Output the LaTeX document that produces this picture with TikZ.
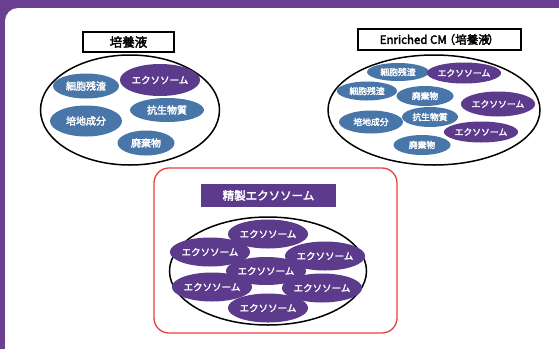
\documentclass[tikz,border=0pt]{standalone}
\usepackage{fontspec}
\setmainfont{Noto Sans CJK JP}
\newfontfamily\heavy{Noto Sans CJK JP}[FakeBold=2.6]
\usetikzlibrary{shapes.geometric}
\definecolor{bandpurple}{RGB}{107,63,145}
\definecolor{compblue}{RGB}{72,118,168}
\definecolor{exopurple}{RGB}{92,58,140}
\definecolor{framered}{RGB}{232,64,64}
\tikzset{
  blob/.style={ellipse, inner sep=0pt, text=white, font=\heavy\fontsize{10}{10}\selectfont},
  comp/.style={blob, fill=compblue},
  exo/.style={blob, fill=exopurple, font=\heavy\fontsize{9.5}{10}\selectfont},
  sm/.style={font=\heavy\fontsize{8.8}{10}\selectfont},
  pool/.style={ellipse, draw=black, line width=1.5pt, inner sep=0pt},
  titlebox/.style={draw=black, line width=1.6pt, fill=white, inner sep=0pt, font=\heavy\fontsize{12.5}{13}\selectfont}
}
\begin{document}
\begin{tikzpicture}[x=1pt,y=-1pt]
\useasboundingbox (0,0) rectangle (559,349);
\fill[bandpurple] (0,0) rectangle (559,349);
\fill[white, rounded corners=13pt] (5,8) rectangle (580,368);

% ---------- left: culture medium ----------
\node[titlebox, minimum width=91pt, minimum height=20pt] (t1) at (128.5,42) {培養液};
\node[pool, minimum width=179pt, minimum height=110pt] (p1) at (130,110) {};
\node[comp, minimum width=66pt, minimum height=25pt] (a1) at (86,86) {細胞残渣};
\node[exo, minimum width=71pt, minimum height=32pt] (a2) at (160,80) {エクソソーム};
\node[comp, minimum width=74pt, minimum height=24pt] (a3) at (167,110) {抗生物質};
\node[comp, minimum width=72pt, minimum height=31pt] (a4) at (86,121) {培地成分};
\node[comp, minimum width=57pt, minimum height=25pt] (a5) at (146,143) {廃棄物};

% ---------- right: enriched CM ----------
\node[titlebox, minimum width=163pt, minimum height=21pt, font=\heavy\fontsize{11.5}{12}\selectfont] (t2) at (439.5,39.5) {Enriched CM\kern-3pt（培養液\kern-2pt）};
\node[pool, minimum width=212pt, minimum height=110pt] (p2) at (434,110) {};
\node[comp, sm, minimum width=62pt, minimum height=18pt] (b1) at (398,72) {細胞残渣};
\node[exo, sm, minimum width=66pt, minimum height=21pt] (b2) at (464,73) {エクソソーム};
\node[comp, sm, minimum width=60pt, minimum height=19pt] (b3) at (367,91) {細胞残渣};
\node[comp, sm, minimum width=57pt, minimum height=20pt] (b4) at (425,96) {廃棄物};
\node[exo, sm, minimum width=64pt, minimum height=25pt] (b5) at (498,104) {エクソソーム};
\node[comp, sm, minimum width=64pt, minimum height=23pt] (b6) at (371,122) {培地成分};
\node[comp, sm, minimum width=56pt, minimum height=20pt] (b7) at (430,117) {抗生物質};
\node[exo, sm, minimum width=66pt, minimum height=21pt] (b8) at (481,132) {エクソソーム};
\node[comp, sm, minimum width=57pt, minimum height=20pt] (b9) at (422,145) {廃棄物};

% ---------- bottom: purified exosomes ----------
\node[draw=framered, line width=1.3pt, rounded corners=15pt, minimum width=243pt, minimum height=165pt, inner sep=0pt] (f3) at (275.5,250.5) {};
\node[fill=exopurple, text=white, inner sep=0pt, minimum width=135pt, minimum height=23pt, font=\heavy\fontsize{11.5}{12}\selectfont] (t3) at (268.5,195.5) {精製エクソソーム};
\node[pool, minimum width=197pt, minimum height=108pt] (p3) at (268,271) {};
\node[exo, minimum width=66pt, minimum height=29pt] (c1) at (268,234) {エクソソーム};
\node[exo, minimum width=66pt, minimum height=29pt] (c2) at (210,252) {エクソソーム};
\node[exo, minimum width=66pt, minimum height=29pt] (c3) at (325,256) {エクソソーム};
\node[exo, minimum width=66pt, minimum height=28pt] (c4) at (266,271) {エクソソーム};
\node[exo, minimum width=66pt, minimum height=29pt] (c5) at (212,287) {エクソソーム};
\node[exo, minimum width=66pt, minimum height=29pt] (c6) at (322,288) {エクソソーム};
\node[exo, minimum width=66pt, minimum height=29pt] (c7) at (268,308) {エクソソーム};
\end{tikzpicture}
\end{document}
